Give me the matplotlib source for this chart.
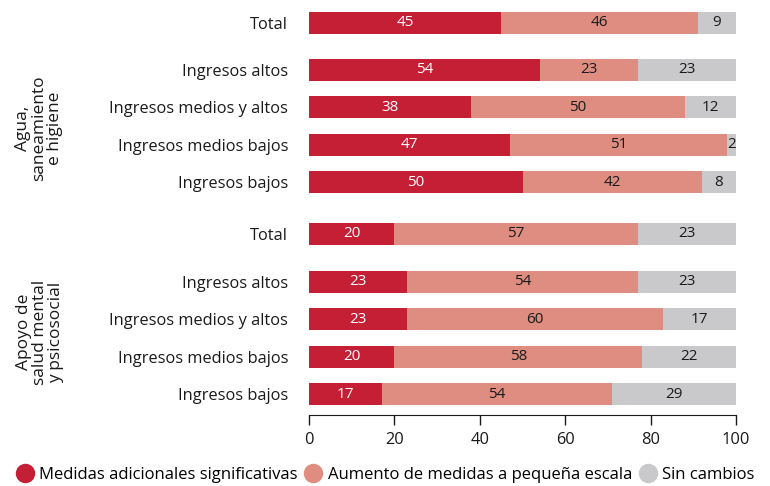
import matplotlib
matplotlib.use("Agg")
import matplotlib.pyplot as plt
from matplotlib.lines import Line2D

plt.rcParams['font.family'] = ['Open Sans', 'DejaVu Sans']

categories = ["Total", "Ingresos altos", "Ingresos medios y altos", "Ingresos medios bajos", "Ingresos bajos",
              "Total", "Ingresos altos", "Ingresos medios y altos", "Ingresos medios bajos", "Ingresos bajos"]
significativas = [45, 54, 38, 47, 50, 20, 23, 23, 20, 17]
pequena_escala = [46, 23, 50, 51, 42, 57, 54, 60, 58, 54]
sin_cambios = [9, 23, 12, 2, 8, 23, 23, 17, 22, 29]
series_names = ["Medidas adicionales significativas", "Aumento de medidas a pequeña escala", "Sin cambios"]
group_labels = ["Agua,\nsaneamiento\ne higiene", "Apoyo de\nsalud mental\ny psicosocial"]
xticks = [0, 20, 40, 60, 80, 100]

colors = ["#C41F35", "#DE8D80", "#C9C9CB"]
text_colors = ["white", "#1a1a1a", "#1a1a1a"]

# layout positions (rows)
ypos = [0, 1.25, 2.25, 3.25, 4.25, 5.62, 6.9, 7.9, 8.9, 9.9]

fig = plt.figure(figsize=(7.7, 4.86), dpi=100)
ax = fig.add_axes([309/770, 1-415/486, (736-309)/770, (415-12)/486])

h = 0.59
left = [0]*len(categories)
for vals, c, tc in zip([significativas, pequena_escala, sin_cambios], colors, text_colors):
    ax.barh(ypos, vals, left=left, height=h, color=c, edgecolor='none')
    for y, l, v in zip(ypos, left, vals):
        ax.text(l + v/2, y, str(v), ha='center', va='center', color=tc, fontsize=11)
    left = [a + b for a, b in zip(left, vals)]

ax.set_xlim(0, 100)
ax.set_ylim(10.45, -0.293)
ax.set_yticks(ypos)
ax.set_yticklabels(categories, fontsize=11.8, color='#1a1a1a')
ax.tick_params(axis='y', length=0, pad=15)
ax.set_xticks(xticks)
ax.set_xticklabels([str(t) for t in xticks], fontsize=11.8, color='#1a1a1a')
ax.tick_params(axis='x', length=7, width=1, color='#1a1a1a', pad=5)
for s in ['top', 'right', 'left']:
    ax.spines[s].set_visible(False)
ax.spines['bottom'].set_color('#1a1a1a')

fig.text(39/770, 1-128/486, group_labels[0], rotation=90, ha='center', va='center',
         fontsize=12.5, color='#1a1a1a', linespacing=1.0)
fig.text(40/770, 1-332/486, group_labels[1], rotation=90, ha='center', va='center',
         fontsize=12.5, color='#1a1a1a', linespacing=1.0)

handles = [Line2D([0], [0], marker='o', color='none', markerfacecolor=c, markeredgecolor='none',
                  markersize=14) for c in colors]
fig.legend(handles, series_names, loc='center', bbox_to_anchor=(0.5, 1-475/486), ncol=3,
           frameon=False, fontsize=12, handletextpad=0.3, columnspacing=0.4, handlelength=1.1,
           borderaxespad=0)

fig.savefig("out.png", dpi=100)
